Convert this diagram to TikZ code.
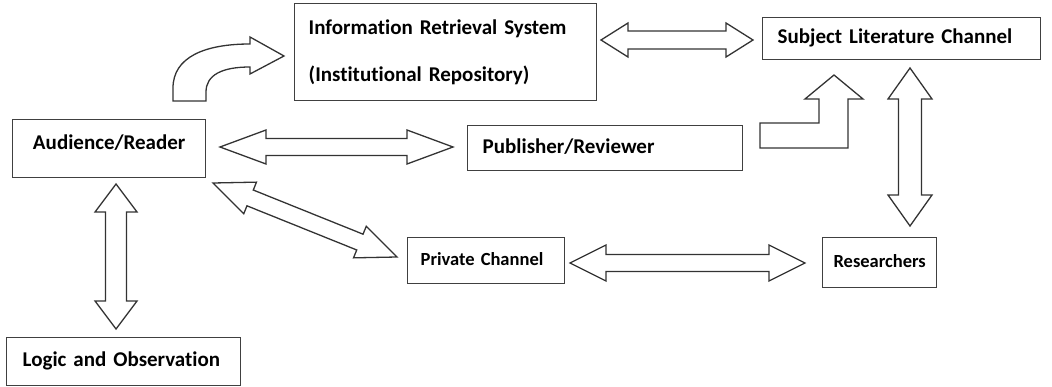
\documentclass[tikz,border=0pt]{standalone}
\usepackage{fontspec}
\setmainfont{Carlito}[Ligatures=NoCommon,WordSpace=0.8]
\usetikzlibrary{calc}

% two headed block arrow from tip #1 to tip #2
% #3 head length, #4 half shaft width, #5 half head width
\newcommand{\twoway}[5]{%
  \draw[blockarrow] (#1)
    -- ($(#1)!#3!(#2)!#5!90:(#2)$) -- ($(#1)!#3!(#2)!#4!90:(#2)$)
    -- ($(#2)!#3!(#1)!#4!-90:(#1)$) -- ($(#2)!#3!(#1)!#5!-90:(#1)$)
    -- (#2)
    -- ($(#2)!#3!(#1)!#5!90:(#1)$) -- ($(#2)!#3!(#1)!#4!90:(#1)$)
    -- ($(#1)!#3!(#2)!#4!-90:(#2)$) -- ($(#1)!#3!(#2)!#5!-90:(#2)$)
    -- cycle;}

\begin{document}
\begin{tikzpicture}[x=1pt,y=-1pt,
    box/.style={draw=black!75,line width=1.4pt,anchor=north west,inner sep=0pt,
      font=\fontsize{21}{25}\selectfont\bfseries},
    oneline/.style={text height=14pt,text depth=4pt},
    small/.style={font=\fontsize{18.5}{22}\selectfont\bfseries},
    blockarrow/.style={draw=black!80,line width=1.3pt,line join=miter}]
  \useasboundingbox (0,0) rectangle (1052,387);

  \node[box,minimum width=302pt,minimum height=97pt,text width=274pt,align=left,
    font=\fontsize{21}{47}\selectfont\bfseries] (ir) at (294,3)
    {Information Retrieval System\\(Institutional Repository)};
  \node[box,oneline,minimum width=278pt,minimum height=42pt,text width=248pt,
    align=left] (sub) at (762,17) {Subject Literature Channel};
  \node[box,oneline,minimum width=193pt,minimum height=58pt,text depth=13pt]
    (aud) at (12,119) {Audience/Reader};
  \node[box,oneline,minimum width=275pt,minimum height=45pt,text width=245pt,
    align=left] (pub) at (467,125) {Publisher/Reviewer};
  \node[box,oneline,small,minimum width=157pt,minimum height=46pt,text width=131pt,
    align=left] (prv) at (407,237) {Private Channel};
  \node[box,oneline,small,minimum width=114pt,minimum height=50pt]
    (res) at (822,237) {Researchers};
  \node[box,oneline,minimum width=234pt,minimum height=48pt,text width=202pt,
    align=left] (log) at (6,337) {Logic and Observation};

  % arrow tips
  \coordinate (ir-sub1) at (601,40);   \coordinate (ir-sub2) at (753,40);
  \coordinate (aud-pub1) at (220,147); \coordinate (aud-pub2) at (453,147);
  \coordinate (aud-prv1) at (213,183); \coordinate (aud-prv2) at (397,257);
  \coordinate (sub-res1) at (910,68);  \coordinate (sub-res2) at (910,226);
  \coordinate (aud-log1) at (116,184); \coordinate (aud-log2) at (116,329);
  \coordinate (prv-res1) at (570,263); \coordinate (prv-res2) at (805,263);

  \twoway{ir-sub1}{ir-sub2}{27pt}{9pt}{17pt}
  \twoway{aud-pub1}{aud-pub2}{46pt}{8.5pt}{17pt}
  \twoway{aud-prv1}{aud-prv2}{40pt}{8.5pt}{17pt}
  \twoway{sub-res1}{sub-res2}{31pt}{11.5pt}{22pt}
  \twoway{aud-log1}{aud-log2}{28pt}{10.5pt}{21pt}
  \twoway{prv-res1}{prv-res2}{36pt}{8.5pt}{18pt}

  % bent arrows
  \draw[blockarrow] (173,101) -- (173,88) .. controls (173,57) and (205,44) .. (250,44)
    -- (250,37) -- (284,56) -- (250,74) -- (250,67)
    .. controls (222,67) and (206,75) .. (206,92) -- (206,101) -- cycle;
  \draw[blockarrow] (760,123) -- (819,123) -- (819,99) -- (805,99) -- (834,75)
    -- (863,99) -- (848,99) -- (848,148) -- (760,148) -- cycle;
\end{tikzpicture}
\end{document}
